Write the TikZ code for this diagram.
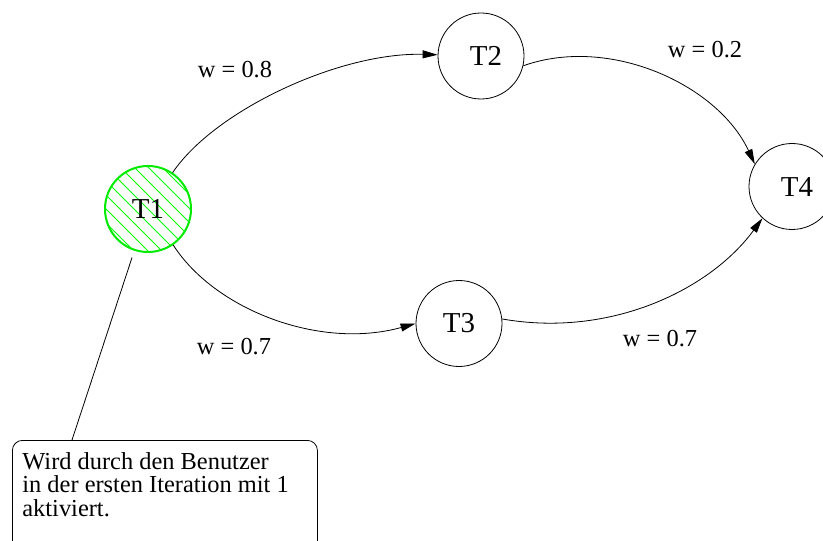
\documentclass[tikz,border=0pt]{standalone}
\usepackage{fontspec}
\setmainfont{Liberation Serif}
\usetikzlibrary{arrows.meta}
\definecolor{hatchgreen}{RGB}{0,255,0}
\definecolor{nodegreen}{RGB}{0,235,0}
\tikzset{
  task/.style={circle, draw, line width=0.8bp, minimum size=86bp, inner sep=0pt, font=\fontsize{29}{30}\selectfont},
  arr/.style={line width=0.8bp, -{Triangle[length=15bp,width=8bp]}},
  wlabel/.style={anchor=base, inner sep=0pt, font=\fontsize{24.5}{26}\selectfont},
}
\begin{document}
\begin{tikzpicture}[x=1bp,y=-1bp]
\clip (0,0) rectangle (823,541);
\fill[white] (0,0) rectangle (823,541);

% hatched start node
\begin{scope}
  \clip (148,209) circle (43bp);
  \foreach \i in {-126,-112,...,126}
    \draw[hatchgreen, line width=0.8bp] (148+\i-70,209-70) -- (148+\i+70,209+70);
\end{scope}
\node[task, draw=nodegreen, line width=2bp] (t1) at (148,209) {T1};
\node[task] (t2) at (481,56) {\hspace*{10bp}T2};
\node[task] (t3) at (459,323.5) {T3};
\node[task] (t4) at (792,186.5) {\hspace*{10bp}T4};

% edges
\draw[arr] (t1) .. controls (215,110) and (340,52) .. (t2);
\draw[arr] (t2.-13) .. controls (610,35) and (718,85) .. (t4.149);
\draw[arr] (t1.-55) .. controls (215,310) and (320,350) .. (t3.180);
\draw[arr] (t3.6) .. controls (610,338) and (710,290) .. (t4.-133);

% weights
\node[wlabel] (w12) at (235,78) {w = 0.8};
\node[wlabel] (w24) at (705,58) {w = 0.2};
\node[wlabel] (w13) at (234,354) {w = 0.7};
\node[wlabel] (w34) at (660,346) {w = 0.7};

% note
\node[draw, line width=0.8bp, rounded corners=10bp, anchor=north west,
      inner xsep=10bp, inner ysep=12bp, font=\fontsize{24.5}{23.5}\selectfont]
  (note) at (12,440)
  {\parbox[t][95bp][t]{285bp}{\raggedright Wird durch den Benutzer\\in der ersten Iteration mit 1\\aktiviert.}};
\coordinate (n1) at (72,440);
\draw[line width=0.8bp, shorten >=7bp] (n1) -- (t1);
\end{tikzpicture}
\end{document}
